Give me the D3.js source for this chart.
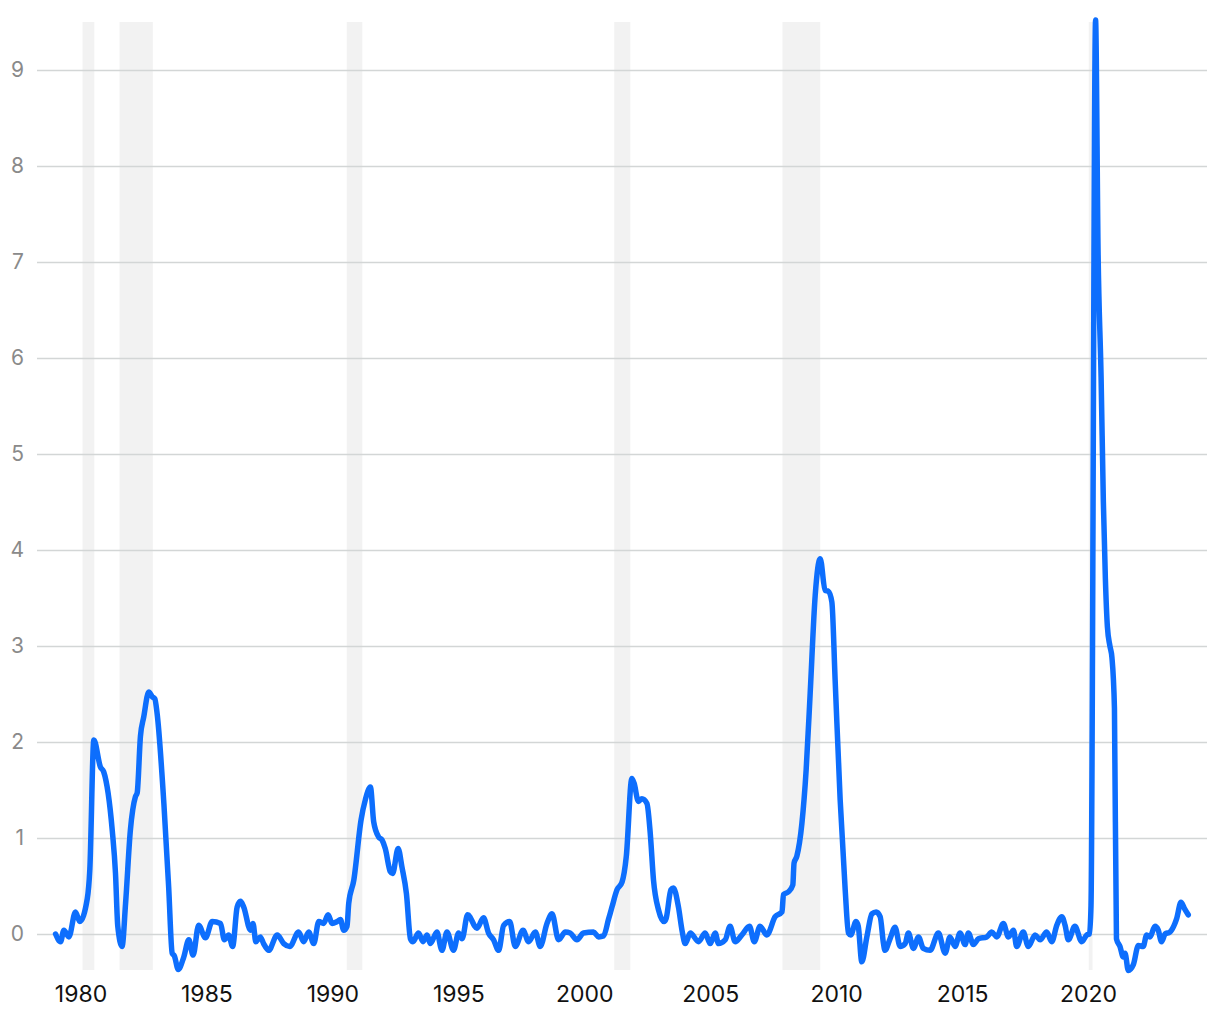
<!DOCTYPE html>
<html><head><meta charset="utf-8">
<script src="https://cdn.jsdelivr.net/npm/d3@7"></script>
<style>html,body{margin:0;padding:0;background:#fff;} svg{display:block;}</style>
</head><body>
<svg id="chart" width="1220" height="1020"></svg>
<script>
// decimal-year dates and values
const dates = [1979.01,1979.21,1979.34,1979.54,1979.80,1979.97,1980.27,1980.37,1980.53,1980.79,1980.92,1981.26,1981.39,1981.48,1981.65,1981.79,1981.98,1982.18,1982.25,1982.38,1982.51,1982.71,1982.85,1982.95,1983.04,1983.31,1983.50,1983.64,1983.73,1983.88,1984.10,1984.30,1984.47,1984.69,1984.96,1985.23,1985.56,1985.71,1985.88,1986.04,1986.22,1986.35,1986.48,1986.75,1986.85,1986.96,1987.14,1987.27,1987.47,1987.81,1988.07,1988.31,1988.66,1988.86,1989.06,1989.26,1989.46,1989.65,1989.83,1989.99,1990.19,1990.32,1990.45,1990.58,1990.65,1990.85,1991.14,1991.31,1991.51,1991.64,1991.84,1991.97,1992.10,1992.30,1992.39,1992.61,1992.76,1992.94,1993.10,1993.20,1993.42,1993.60,1993.76,1993.89,1994.15,1994.35,1994.55,1994.81,1995.01,1995.15,1995.37,1995.74,1996.00,1996.20,1996.40,1996.60,1996.80,1997.04,1997.26,1997.57,1997.79,1998.06,1998.25,1998.52,1998.72,1998.98,1999.25,1999.44,1999.71,1999.97,2000.37,2000.57,2000.77,2000.96,2001.10,2001.30,2001.50,2001.67,2001.89,2001.98,2002.15,2002.29,2002.49,2002.62,2002.75,2002.95,2003.17,2003.25,2003.44,2003.54,2003.74,2003.88,2004.01,2004.21,2004.54,2004.80,2005.00,2005.20,2005.33,2005.60,2005.79,2005.99,2006.26,2006.56,2006.75,2006.98,2007.25,2007.58,2007.85,2007.91,2008.11,2008.28,2008.33,2008.44,2008.64,2008.81,2008.97,2009.17,2009.37,2009.56,2009.69,2009.83,2009.96,2010.16,2010.36,2010.49,2010.58,2010.79,2010.88,2011.02,2011.22,2011.42,2011.59,2011.75,2011.88,2011.94,2012.14,2012.34,2012.54,2012.74,2012.87,2013.07,2013.27,2013.46,2013.73,2014.06,2014.33,2014.52,2014.72,2014.92,2015.12,2015.25,2015.45,2015.65,2015.98,2016.18,2016.38,2016.64,2016.84,2017.04,2017.17,2017.43,2017.63,2017.90,2018.10,2018.36,2018.56,2018.76,2018.96,2019.09,2019.22,2019.48,2019.75,2019.95,2020.06,2020.12,2020.30,2020.40,2020.52,2020.61,2020.69,2020.77,2020.87,2020.95,2021.05,2021.13,2021.27,2021.40,2021.47,2021.60,2021.80,2022.00,2022.19,2022.33,2022.46,2022.66,2022.79,2022.92,2023.06,2023.25,2023.45,2023.52,2023.69,2023.82,2023.98];
const values = [0.00,-0.08,0.04,-0.03,0.23,0.13,0.37,0.67,2.02,1.74,1.69,1.08,0.63,0.08,-0.13,0.32,1.08,1.43,1.47,2.06,2.26,2.52,2.47,2.45,2.30,1.36,0.49,-0.20,-0.23,-0.37,-0.24,-0.06,-0.22,0.09,-0.04,0.13,0.11,-0.06,-0.01,-0.13,0.28,0.34,0.28,0.04,0.11,-0.08,-0.03,-0.10,-0.17,-0.01,-0.10,-0.13,0.02,-0.08,0.02,-0.10,0.13,0.11,0.20,0.11,0.13,0.15,0.04,0.08,0.32,0.56,1.19,1.40,1.53,1.17,1.01,0.98,0.89,0.65,0.63,0.89,0.70,0.42,-0.05,-0.08,0.01,-0.08,-0.01,-0.10,0.02,-0.17,0.02,-0.17,0.01,-0.05,0.20,0.06,0.17,0.01,-0.06,-0.17,0.09,0.13,-0.13,0.04,-0.08,0.02,-0.13,0.11,0.21,-0.06,0.02,0.01,-0.06,0.01,0.02,-0.03,-0.02,0.15,0.28,0.46,0.54,0.81,1.62,1.57,1.38,1.41,1.36,1.05,0.56,0.25,0.13,0.16,0.46,0.48,0.28,0.04,-0.10,0.01,-0.08,0.01,-0.10,0.01,-0.10,-0.06,0.08,-0.08,-0.01,0.08,-0.08,0.08,-0.01,0.18,0.23,0.41,0.44,0.51,0.74,0.81,1.15,1.71,2.51,3.53,3.91,3.58,3.57,3.46,2.65,1.40,0.46,0.01,-0.01,0.13,0.08,-0.29,-0.03,0.21,0.23,0.18,-0.10,-0.17,-0.05,0.07,-0.13,-0.10,0.01,-0.15,-0.03,-0.15,-0.17,0.01,-0.20,-0.03,-0.13,0.01,-0.11,0.01,-0.11,-0.05,-0.03,0.02,-0.03,0.11,-0.03,0.04,-0.13,0.02,-0.13,-0.01,-0.06,0.02,-0.08,0.09,0.18,0.09,-0.06,0.08,-0.08,-0.01,0.00,0.30,9.52,7.10,5.80,4.50,3.70,3.20,3.00,2.88,2.35,-0.05,-0.13,-0.24,-0.20,-0.38,-0.32,-0.12,-0.13,-0.01,-0.03,0.08,0.04,-0.08,0.00,0.02,0.11,0.16,0.33,0.27,0.20];
const recessionStarts = [1980.08, 1981.55, 1990.57, 2001.19, 2007.87, 2020.03];
const recessionEnds   = [1980.55, 1982.87, 1991.19, 2001.83, 2009.37, 2020.18];
const xTicks = [1980, 1985, 1990, 1995, 2000, 2005, 2010, 2015, 2020];
const yTicks = [0, 1, 2, 3, 4, 5, 6, 7, 8, 9];

const svg = d3.select("#chart");
const x = d3.scaleLinear().domain([1980, 2020]).range([80.5, 1088]);
const y = d3.scaleLinear().domain([0, 9]).range([934, 70]);
const bandTop = 22, bandBottom = 970;

// recession bands
svg.append("g").selectAll("rect")
  .data(recessionStarts.map((s, i) => [s, recessionEnds[i]]))
  .join("rect")
  .attr("x", d => x(d[0]))
  .attr("width", d => Math.max(2, x(d[1]) - x(d[0])))
  .attr("y", bandTop)
  .attr("height", bandBottom - bandTop)
  .attr("fill", "#f2f2f2");

// y grid + labels via axis
const yAxis = d3.axisLeft(y).tickValues(yTicks).tickSize(-(1207 - 37)).tickPadding(13);
const gy = svg.append("g").attr("transform", "translate(37,0)").call(yAxis);
gy.select(".domain").remove();
gy.selectAll(".tick line").attr("stroke", "#d3d6d6").attr("stroke-width", 1.5);
gy.selectAll(".tick text").attr("fill", "#8a8a8a")
  .style("font-family", "Inter, 'Noto Sans', sans-serif").style("font-size", "21px");

// x axis labels
const xAxis = d3.axisBottom(x).tickValues(xTicks).tickFormat(d3.format("d")).tickSize(0).tickPadding(0);
const gx = svg.append("g").attr("transform", "translate(0,986)").call(xAxis);
gx.select(".domain").remove();
gx.selectAll(".tick text").attr("fill", "#111").attr("dy", "0.71em")
  .style("font-family", "Inter, 'Noto Sans', sans-serif").style("font-size", "23px");

// line
const pts = dates.map((d, i) => [d, values[i]]);
const line = d3.line().x(d => x(d[0])).y(d => y(d[1])).curve(d3.curveMonotoneX);
svg.append("path").datum(pts)
  .attr("d", line)
  .attr("fill", "none")
  .attr("stroke", "#0d6efd")
  .attr("stroke-width", 5.5)
  .attr("stroke-linejoin", "round")
  .attr("stroke-linecap", "round");
</script>
</body></html>
